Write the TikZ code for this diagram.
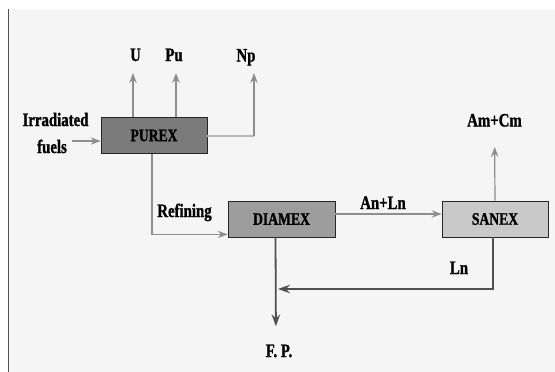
\documentclass[tikz,border=0pt]{standalone}
\usepackage{fontspec}
\setmainfont{Liberation Serif}[FakeStretch=0.78, BoldFeatures={FakeBold=1.2}]
\usetikzlibrary{arrows.meta}
\definecolor{bg}{HTML}{F5F5F5}
\definecolor{arrgray}{HTML}{8E8E8E}
\definecolor{npgray}{HTML}{B8B8B8}
\definecolor{darkline}{HTML}{505050}
\definecolor{purexfill}{HTML}{7B7B7B}
\definecolor{diamexfill}{HTML}{9D9D9D}
\definecolor{sanexfill}{HTML}{C9C9C9}
\tikzset{
  lbl/.style={font=\fontsize{19}{22}\selectfont\bfseries, inner sep=0pt, anchor=base},
  proc/.style={draw=black!85, line width=0.8pt, minimum width=106pt, minimum height=36pt, font=\fontsize{17.5}{20}\selectfont\bfseries},
  arr/.style={draw=arrgray, line width=1.2pt, -{Stealth[length=10pt,width=7.5pt,inset=3.5pt]}},
  darr/.style={draw=darkline, line width=1.8pt, -{Stealth[length=12pt,width=8.5pt,inset=4pt]}},
}
\begin{document}
\begin{tikzpicture}[x=1pt,y=-1pt]
\useasboundingbox (0,0) rectangle (555,372);
\fill[white] (0,0) rectangle (555,372);
\fill[bg] (8,9) rectangle (555,372);
\draw[darkline, line width=1pt] (8,9) -- (8,372);

\node[proc, fill=purexfill] (purex) at (154,135.5) {PUREX};
\node[proc, fill=diamexfill, minimum width=107pt] (diamex) at (281.5,219) {DIAMEX};
\node[proc, fill=sanexfill] (sanex) at (495,219) {SANEX};

\node[lbl] (U) at (135.5,61) {U};
\node[lbl] (Pu) at (174,61) {Pu};
\node[lbl] (Np) at (246,61.5) {Np};
\node[lbl] (fuelA) at (55.5,126) {Irradiated};
\node[lbl] (fuelB) at (52,153) {fuels};
\node[lbl] (ref) at (184.5,217) {Refining};
\node[lbl] (anln) at (383,209) {An+Ln};
\node[lbl] (amcm) at (494.5,126.5) {Am+Cm};
\node[lbl] (ln) at (459,274) {Ln};
\node[lbl] (fp) at (279,357) {F. P.};

\coordinate (fuelin) at (72,141);
\coordinate (npc) at (254,136);
\coordinate (lnend) at (278,289);

% inputs / outputs of PUREX
\draw[arr] (fuelin) -- (fuelin -| purex.west);
\draw[arr, shorten >=12pt] ([xshift=-2.5pt]purex.north -| U) -- ([xshift=-2.5pt]U.base);
\draw[arr, shorten >=12pt] ([xshift=2pt]purex.north -| Pu) -- ([xshift=2pt]Pu.base);
\draw[draw=npgray, line width=2.5pt] (purex.east |- npc) -- (npc);
\draw[arr, shorten >=11.5pt] (npc) -- (npc |- Np.base);

% refining
\draw[arr] ([xshift=-2pt]purex.south) |- ([yshift=3pt]diamex.south west);

% DIAMEX -> SANEX
\draw[arr] ([yshift=5pt]diamex.east) -- ([yshift=5pt]sanex.west);

% SANEX -> Am+Cm
\draw[arr, shorten >=20.5pt] (sanex.north) -- (amcm.base);

% Ln back loop
\draw[darr] ([xshift=-2pt]sanex.south) |- (lnend);

% DIAMEX -> F.P.
\draw[darr, shorten >=18pt] ([xshift=-6pt]diamex.south) -- ([xshift=-3pt]fp.north);
\end{tikzpicture}
\end{document}
